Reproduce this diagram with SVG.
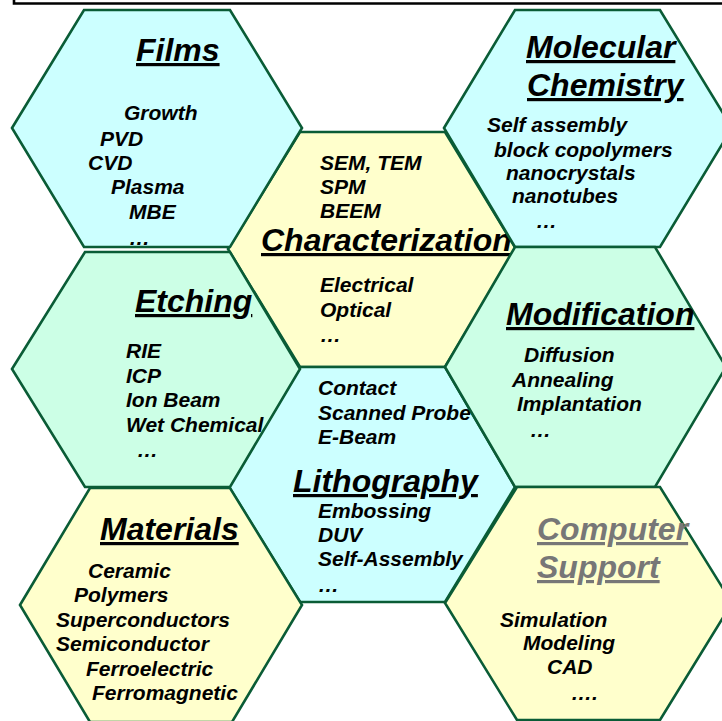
<svg xmlns="http://www.w3.org/2000/svg" width="722" height="721" viewBox="0 0 722 721">
<style>
.hex{stroke:#0A5C36;stroke-width:2.6;stroke-linejoin:miter}
.cy{fill:#CCFFFF}
.gr{fill:#CCFFE6}
.ye{fill:#FFFFCC}
text{font-family:"Liberation Sans",Arial,sans-serif;font-weight:bold;font-style:italic;fill:#000}
.t{font-size:32px;text-decoration:underline;text-decoration-thickness:3.5px;text-underline-offset:4px}
.b{font-size:21px}
.gray{fill:#777777}
</style>
<rect width="722" height="721" fill="#FFFFFF"/>
<path d="M14,-5 V3.5 H730" fill="none" stroke="#000" stroke-width="2.6"/>
<g id="connectors"/>
<g id="characterization">
<polygon class="hex ye" points="228,249 300,132 445,132 516,249 445,367 300,367"/>
<text class="b" x="320" y="170">SEM, TEM</text>
<text class="b" x="320" y="194">SPM</text>
<text class="b" x="320" y="218">BEEM</text>
<text class="t" x="261" y="251">Characterization</text>
<text class="b" x="320" y="292">Electrical</text>
<text class="b" x="320" y="317">Optical</text>
<text class="b" x="320" y="342">…</text>
</g>
<g id="lithography">
<polygon class="hex cy" points="229,487 300,367 445,367 515,487 445,602 300,602"/>
<text class="b" x="318" y="395">Contact</text>
<text class="b" x="318" y="420">Scanned Probe</text>
<text class="b" x="318" y="444">E-Beam</text>
<text class="t" x="293" y="492">Lithography</text>
<text class="b" x="318" y="518">Embossing</text>
<text class="b" x="318" y="542">DUV</text>
<text class="b" x="318" y="566">Self-Assembly</text>
<text class="b" x="318" y="592">…</text>
</g>
<g id="films">
<polygon class="hex cy" points="12,128 84,10 230,10 302,128 230,247 84,247"/>
<text class="t" x="136" y="61">Films</text>
<text class="b" x="124" y="120">Growth</text>
<text class="b" x="100" y="146">PVD</text>
<text class="b" x="88" y="170">CVD</text>
<text class="b" x="111" y="194">Plasma</text>
<text class="b" x="129" y="219">MBE</text>
<text class="b" x="129" y="245">…</text>
</g>
<g id="molecular-chemistry">
<polygon class="hex cy" points="444,128 515,10 660,10 732,128 660,247 515,247"/>
<text class="t" x="526" y="58">Molecular</text>
<text class="t" x="527" y="96">Chemistry</text>
<text class="b" x="487" y="132">Self assembly</text>
<text class="b" x="494" y="157">block copolymers</text>
<text class="b" x="506" y="180">nanocrystals</text>
<text class="b" x="512" y="203">nanotubes</text>
<text class="b" x="536" y="228">…</text>
</g>
<g id="etching">
<polygon class="hex gr" points="12,369 85,252 230,252 300,369 230,487 85,487"/>
<text class="t" x="135" y="312">Etching</text>
<text class="b" x="126" y="358">RIE</text>
<text class="b" x="126" y="383">ICP</text>
<text class="b" x="126" y="407">Ion Beam</text>
<text class="b" x="126" y="432">Wet Chemical</text>
<text class="b" x="137" y="457">…</text>
</g>
<g id="modification">
<polygon class="hex gr" points="445,367 515,247 655,247 726,367 655,487 515,487"/>
<text class="t" x="506" y="325">Modification</text>
<text class="b" x="524" y="362">Diffusion</text>
<text class="b" x="512" y="387">Annealing</text>
<text class="b" x="517" y="411">Implantation</text>
<text class="b" x="530" y="437">…</text>
</g>
<g id="materials">
<polygon class="hex ye" points="20,605 90,488 230,488 302,605 232,722 90,722"/>
<text class="t" x="100" y="540">Materials</text>
<text class="b" x="88" y="578">Ceramic</text>
<text class="b" x="74" y="602">Polymers</text>
<text class="b" x="56" y="627">Superconductors</text>
<text class="b" x="56" y="651">Semiconductor</text>
<text class="b" x="86" y="676">Ferroelectric</text>
<text class="b" x="92" y="700">Ferromagnetic</text>
</g>
<g id="computer-support">
<polygon class="hex ye" points="445,603 517,487 660,487 732,603 660,720 517,720"/>
<text class="t gray" x="537" y="540">Computer</text>
<text class="t gray" x="537" y="578">Support</text>
<text class="b" x="500" y="627">Simulation</text>
<text class="b" x="523" y="650">Modeling</text>
<text class="b" x="547" y="674">CAD</text>
<text class="b" x="571" y="700">….</text>
</g>
</svg>
